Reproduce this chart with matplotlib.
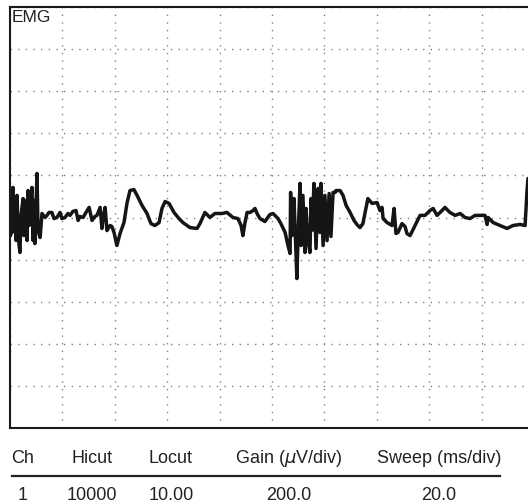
import numpy as np
import matplotlib
matplotlib.use('Agg')
import matplotlib.pyplot as plt
from matplotlib.lines import Line2D

plt.rcParams['font.family'] = ['Liberation Sans', 'DejaVu Sans']

# EMG trace, time in ms (20 ms/div) and amplitude in uV (200 uV/div)
time_ms = [
    0, 0.2, 0.4, 0.8, 1.1, 1.5, 1.9, 2.3, 2.7, 3.1, 3.8, 4.2, 5.0, 5.3, 5.7,
    6.5, 6.9, 7.3, 7.6, 8.4, 8.8, 9.2, 9.5, 10.3, 10.7, 11.5, 12.2,
    13.4, 14.1, 14.9, 16.0, 16.8, 17.9, 19.1, 19.8, 21.0, 22.1, 22.9, 24.0,
    25.2, 26.0, 26.7, 27.9, 29.0, 30.2, 31.3, 32.4, 33.2, 34.4, 35.1, 35.5,
    36.3, 37.0, 38.2, 38.9, 39.7, 40.8, 42.0, 43.5, 44.7, 45.8, 47.3, 48.5,
    50.4, 52.3, 53.8, 55.3, 56.9, 58.0, 59.2, 60.7, 62.6, 64.5, 66.0, 68.7,
    71.4, 72.5, 74.4, 76.3, 78.2, 80.9, 82.8, 85.1, 87.0, 88.2, 88.9, 89.7,
    90.5, 91.6, 92.8, 93.5, 94.3, 95.4, 97.3, 99.2, 100.4, 102.3, 103.4,
    105.0, 106.1,
    106.9, 107.1, 107.6, 108.4, 109.2, 109.5, 109.9, 110.7, 111.1, 111.8,
    112.6, 113.0, 113.7, 114.5, 114.9, 115.4, 116.0, 116.8, 117.6, 118.3,
    118.7, 119.5, 120.2, 121.0, 121.8, 122.5, 123.3, 124.1, 124.4, 126.0,
    127.1, 128.3, 129.8, 131.3, 132.4, 133.6, 134.7, 136.6, 138.2, 140.1,
    141.2, 142.0, 142.4, 143.9, 145.8, 146.6, 147.3, 148.1, 149.6, 150.8,
    151.5, 152.7, 154.6, 156.5, 158.4, 160.3, 161.5, 163.0, 164.9, 166.0,
    167.9, 169.9, 171.8, 173.7, 175.6, 177.5, 179.4, 181.3, 182.1, 182.5,
    184.4, 187.0, 189.7, 192.0, 194.7, 196.6, 197.3, 197.7,
]
amp_uv = [
    105, -86, 128, -71, 143, -52, 81, -109, 105, -90, -166, 10, 90, -86, 81,
    -109, 128, -38, 57, 143, -109, 81, -124, 209, -62, -95, 19,
    0, 10, 24, 24, -5, 0, 24, -5, 0, 19, 10, 29,
    33, -14, 5, 0, 24, 48, -14, 5, 10, 48, -52, -5,
    48, -62, -38, -43, -71, -133, -76, -24, 71, 128, 133, 105,
    57, 19, -29, -38, -24, 43, 76, 67, 24, -5, -24, -48,
    -52, -29, 24, 0, 19, 19, 24, 0, -5, -38, -86, -24,
    24, 24, 33, 43, 19, -5, -19, 14, 19, -5, -29,
    -71, -133,
    -171, 119, -86, 90, -181, -290, -109, 162, -133, 105,
    -166, 43, -109, -166, 90, -60, 162, -147, 138, -71,
    162, -133, 105, -110, 114, -90, 119, 119, 128, 128,
    105, 57, 24, -14, -33, -48, -29, 90, 67, 71,
    33, 48, -5, -24, -38, 43, -76, -71, -29, -43,
    -76, -86, -38, 10, 10, 33, 43, 10, 33, 48,
    24, 10, 19, 0, -5, 10, 10, 10, -33, 0,
    -24, -38, -52, -38, -33, -38, 119, 185,
]

headers = ['Ch', 'Hicut', 'Locut', r'Gain ($\mu$V/div)', 'Sweep (ms/div)']
settings = ['1', '10000', '10.00', '200.0', '20.0']

W, H = 528, 504
fig = plt.figure(figsize=(W / 100, H / 100), dpi=100)
# right edge of the screen is cut off in the reference
ax = fig.add_axes([10 / W, 76 / H, 524 / W, 421 / H])

ax.plot(time_ms, amp_uv, color='#151515', lw=2.5, solid_joinstyle='round',
        solid_capstyle='round')
ax.set_xlim(0, 200)
ax.set_ylim(-1000, 1000)
ax.set_xticks(np.arange(0, 201, 20))
ax.set_yticks(np.arange(-1000, 1001, 200))
ax.tick_params(length=0, labelbottom=False, labelleft=False)
ax.grid(True, color='#808080', lw=1.0, linestyle=(0, (1, 4.5)))
for s in ax.spines.values():
    s.set_linewidth(1.5)
    s.set_color('#1a1a1a')

fig.text(12 / W, 1 - 10 / H, 'EMG', fontsize=12.5, va='top', ha='left', color='#222222')

# settings table under the screen
col_x = [23, 92, 171, 289, 439]
for cx, h, v in zip(col_x, headers, settings):
    fig.text(cx / W, (H - 463) / H, h, fontsize=13, ha='center', va='baseline', color='#222222')
    fig.text(cx / W, (H - 500) / H, v, fontsize=13, ha='center', va='baseline', color='#222222')
fig.add_artist(Line2D([12 / W, 500 / W], [(H - 476) / H] * 2, color='#222222', lw=1.6))

fig.savefig('out.png', dpi=100)
